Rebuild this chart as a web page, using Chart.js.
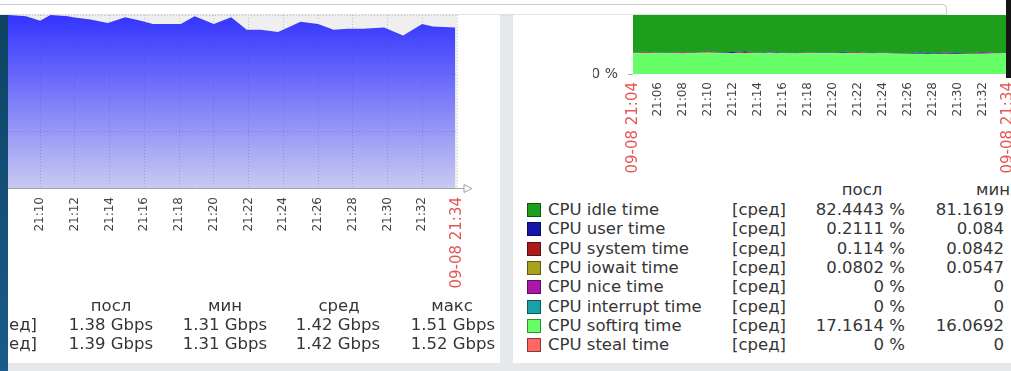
<!DOCTYPE html>
<html>
<head>
<meta charset="utf-8">
<script src="https://cdn.jsdelivr.net/npm/chart.js@4.4.1/dist/chart.umd.min.js"></script>
<style>
    html, body { margin: 0; padding: 0; }
    body {
        width: 1011px; height: 371px; position: relative; overflow: hidden;
        background: #e6e9ec; font-family: "DejaVu Sans", sans-serif; color: #333;
    }
    .abs { position: absolute; }
    .panel { position: absolute; background: #fff; overflow: hidden; }
    .txt { position: absolute; font: 16.5px/20px "DejaVu Sans", sans-serif; color: #353535; white-space: nowrap; z-index: 2; }
    .sq { position: absolute; width: 12px; height: 12px; border: 1px solid rgba(0,0,0,0.45); z-index: 2; }
</style>
</head>
<body>

<div class="abs" style="left:0;top:0;width:1011px;height:15px;background:#fff"></div>
<div class="abs" style="left:-6px;top:4px;width:952px;height:9px;border-top:1px solid #cdcdcd;border-right:1px solid #cdcdcd;border-radius:0 5px 0 0;box-shadow:0 1px 2px rgba(0,0,0,0.15);background:#fff"></div>

<div class="panel" style="left:0;top:15px;width:500px;height:348px">
    <canvas id="netChart" class="abs" style="left:-100px;top:0" width="584" height="283"></canvas>
</div>

<div class="panel" style="left:513px;top:15px;width:498px;height:348px">
    <canvas id="cpuChart" class="abs" style="left:0;top:-80px" width="540" height="245"></canvas>
</div>

<div class="abs" style="left:0;top:15px;width:8px;height:356px;background:linear-gradient(to bottom,#0c4362,#1a5b8b);z-index:5"></div>
<div class="abs" style="left:1006px;top:0;width:5px;height:78px;background:#151515;z-index:5"></div>

<script>
// ---- data ----
const timeTicks = ['09-08 21:04', '21:06', '21:08', '21:10', '21:12', '21:14', '21:16', '21:18',
    '21:20', '21:22', '21:24', '21:26', '21:28', '21:30', '21:32', '09-08 21:34'];

// network traffic (Gbps), x = minutes after 21:04
const netMinutes = [0, 1, 2, 3, 4.2, 5.2, 6.0, 6.6, 7.6, 7.9, 8.9, 9.9, 10.9, 11.8, 12.5, 13.5, 14.1,
    14.9, 16.0, 17.0, 17.9, 18.7, 19.7, 21.0, 22.0, 22.9, 23.7, 24.6, 25.8, 26.9, 28.0, 28.6, 29.9];
const netTraffic = [1.47, 1.50, 1.46, 1.49, 1.52, 1.51, 1.47, 1.52, 1.51, 1.50, 1.48, 1.45, 1.50, 1.47,
    1.44, 1.44, 1.44, 1.51, 1.44, 1.50, 1.39, 1.39, 1.37, 1.46, 1.44, 1.39, 1.40, 1.40, 1.41, 1.34,
    1.44, 1.42, 1.41];
const netGridY = [0, 0.5, 1.0, 1.52];

const netStatHeads = ['посл', 'мин', 'сред', 'макс'];
const netLast = ['1.38 Gbps', '1.39 Gbps'];
const netMin = ['1.31 Gbps', '1.31 Gbps'];
const netAvg = ['1.42 Gbps', '1.42 Gbps'];
const netMax = ['1.51 Gbps', '1.52 Gbps'];

// CPU utilisation (%), one value per minute from 21:04
const cpuMinutes = [0, 1, 2, 3, 4, 5, 6, 7, 8, 9, 10, 11, 12, 13, 14, 15, 16, 17, 18, 19, 20,
    21, 22, 23, 24, 25, 26, 27, 28, 29, 30];
const cpuIdle = [82.3, 81.6, 82.2, 82.4, 81.7, 82.3, 81.2, 82.4, 81.7, 81.8, 82.3, 81.2, 82.3, 82.6,
    82.2, 82.3, 82.4, 81.5, 81.7, 82.7, 82.2, 82.9, 83.0, 81.9, 82.9, 81.9, 82.6, 83.1, 81.7, 82.6, 82.44];
const cpuUser = [0.2, 0.3, 0.2, 0.2, 0.3, 0.2, 0.7, 0.2, 0.9, 0.6, 0.2, 1.0, 0.3, 0.2, 0.2, 0.3,
    0.2, 0.9, 0.3, 0.2, 0.3, 0.2, 0.2, 1.1, 0.3, 0.9, 0.7, 0.2, 0.6, 0.2, 0.21];
const cpuSystem = [0.1, 0.9, 0.1, 0.1, 0.8, 0.1, 0.6, 0.1, 0.2, 0.7, 0.1, 0.1, 0.1, 0.1, 0.1, 0.1,
    0.1, 0.1, 0.8, 0.1, 0.1, 0.1, 0.1, 0.1, 0.1, 0.6, 0.1, 0.1, 0.8, 0.1, 0.11];
const cpuIowait = [0.08, 0.1, 0.08, 0.08, 0.1, 0.08, 0.5, 0.08, 0.08, 0.08, 0.08, 0.08, 0.08, 0.08,
    0.4, 0.08, 0.08, 0.08, 0.08, 0.08, 0.4, 0.08, 0.08, 0.08, 0.08, 0.08, 0.08, 0.08, 0.08, 0.08, 0.08];
const cpuNice = [0, 0, 0, 0, 0, 0, 0, 0, 0, 0, 0, 0, 0, 0, 0, 0, 0, 0, 0, 0, 0, 0, 0, 0, 0, 0, 0, 0, 0, 0, 0];
const cpuInterrupt = [0, 0, 0, 0, 0, 0, 0, 0, 0, 0, 0, 0, 0, 0, 0, 0, 0, 0, 0, 0, 0, 0, 0, 0, 0, 0, 0, 0, 0, 0, 0];
const cpuSoftirq = [17.3, 17.1, 17.4, 17.2, 17.0, 17.3, 17.5, 17.2, 17.1, 17.4, 17.3, 17.6, 17.2, 17.0,
    17.1, 17.3, 17.2, 17.4, 17.1, 16.9, 17.0, 16.8, 16.6, 16.7, 16.5, 16.3, 16.4, 16.6, 16.8, 17.0, 17.16];
const cpuSteal = [0, 0, 0, 0, 0, 0, 0, 0, 0, 0, 0, 0, 0, 0, 0, 0, 0, 0, 0, 0, 0, 0, 0, 0, 0, 0, 0, 0, 0, 0, 0];
const cpuYTicks = [0, 100];

const cpuNames = ['CPU idle time', 'CPU user time', 'CPU system time', 'CPU iowait time',
    'CPU nice time', 'CPU interrupt time', 'CPU softirq time', 'CPU steal time'];
const cpuColors = ['#1d9f1d', '#1616a8', '#aa1c1c', '#aaa21a', '#aa18aa', '#18a2a6', '#66ff66', '#ff6666'];
const cpuLast = ['82.4443 %', '0.2111 %', '0.114 %', '0.0802 %', '0 %', '0 %', '17.1614 %', '0 %'];
const cpuMin = ['81.1619', '0.084', '0.0842', '0.0547', '0', '0', '16.0692', '0'];
const cpuStatHeads = ['посл', 'мин'];

const RED = '#e25656';
const GREY = '#444';

// ---- plugins ----
const plotBg = {
    id: 'plotBg',
    beforeDraw(chart, args, opts) {
        const { ctx, chartArea: a } = chart;
        ctx.save();
        ctx.fillStyle = opts.color;
        ctx.fillRect(a.left, a.top, a.width, a.height);
        ctx.restore();
    }
};

const axisArrow = {
    id: 'axisArrow',
    afterDraw(chart) {
        const { ctx, chartArea: a } = chart;
        const y = a.bottom + 0.5;
        ctx.save();
        ctx.strokeStyle = '#a0a0a0';
        ctx.lineWidth = 1;
        ctx.beginPath();
        ctx.moveTo(a.right, y);
        ctx.lineTo(a.right + 7, y);
        ctx.moveTo(a.right + 7, y - 4);
        ctx.lineTo(a.right + 15, y);
        ctx.lineTo(a.right + 7, y + 4);
        ctx.closePath();
        ctx.stroke();
        ctx.restore();
    }
};

function tickLabel(v) { return timeTicks[Math.round(v / 2)]; }
function isDateTick(c) { return !!(c && c.tick) && tickLabel(c.tick.value).indexOf('09-08') === 0; }
function tickColor(c) { return isDateTick(c) ? RED : GREY; }
function tickFont(c) { return { family: 'DejaVu Sans', size: isDateTick(c) ? 15 : 12 }; }

// ---- network graph ----
new Chart(document.getElementById('netChart'), {
    type: 'line',
    data: {
        datasets: [{
            data: netMinutes.map((m, i) => ({ x: m, y: netTraffic[i] })),
            fill: 'origin',
            borderWidth: 0,
            pointRadius: 0,
            tension: 0,
            backgroundColor: (c) => {
                const a = c.chart.chartArea;
                if (!a) return '#3333ff';
                const g = c.chart.ctx.createLinearGradient(0, a.top, 0, a.bottom);
                g.addColorStop(0, 'rgba(51,51,255,1)');
                g.addColorStop(1, 'rgba(51,51,255,0.2)');
                return g;
            }
        }]
    },
    options: {
        responsive: false,
        animation: false,
        events: [],
        layout: { padding: { left: 35.8, right: 20, top: 0, bottom: 0 } },
        plugins: { legend: { display: false }, tooltip: { enabled: false }, plotBg: { color: '#efefef' } },
        scales: {
            x: {
                type: 'linear', min: 0, max: 30, z: 1,
                afterFit: (s) => { s.height = 110; },
                grid: { color: '#c4c4c4', drawTicks: false },
                border: { display: true, color: '#a0a0a0', dash: [1, 2] },
                ticks: {
                    stepSize: 2, maxTicksLimit: 40, autoSkip: false, maxRotation: 90, minRotation: 90,
                    padding: 9, font: tickFont, color: tickColor, callback: tickLabel
                }
            },
            y: {
                min: 0, max: 1.52, z: 1,
                afterFit: (s) => { s.width = 0; },
                afterBuildTicks: (s) => { s.ticks = netGridY.map(v => ({ value: v })); },
                grid: { color: '#c4c4c4', drawTicks: false },
                border: { display: false, dash: [1, 2] },
                ticks: { display: false }
            }
        }
    },
    plugins: [plotBg, axisArrow]
});

// ---- CPU graph (stacked, bottom to top) ----
const cpuStack = [
    [cpuSoftirq, 6], [cpuSteal, 7], [cpuInterrupt, 5], [cpuNice, 4],
    [cpuIowait, 3], [cpuSystem, 2], [cpuUser, 1], [cpuIdle, 0]
];

new Chart(document.getElementById('cpuChart'), {
    type: 'line',
    data: {
        datasets: cpuStack.map(([vals, ci], i) => ({
            data: cpuMinutes.map((m, j) => ({ x: m, y: vals[j] })),
            fill: i === 0 ? 'origin' : '-1',
            backgroundColor: cpuColors[ci],
            borderColor: cpuColors[ci],
            borderWidth: 0,
            pointRadius: 0,
            tension: 0
        }))
    },
    options: {
        responsive: false,
        animation: false,
        events: [],
        layout: { padding: { left: 80, right: 45, top: 1.6, bottom: 0 } },
        plugins: { legend: { display: false }, tooltip: { enabled: false } },
        scales: {
            x: {
                type: 'linear', min: 0, max: 30,
                afterFit: (s) => { s.height = 106; },
                grid: { display: false, drawTicks: false },
                border: { display: false },
                ticks: {
                    stepSize: 2, maxTicksLimit: 40, autoSkip: false, maxRotation: 90, minRotation: 90,
                    padding: 8, font: tickFont, color: tickColor, callback: tickLabel
                }
            },
            y: {
                stacked: true, min: 0, max: 100,
                afterFit: (s) => { s.width = 40; },
                afterBuildTicks: (s) => { s.ticks = cpuYTicks.map(v => ({ value: v })); },
                grid: { drawOnChartArea: false, drawTicks: true, tickLength: 5, color: '#b0b0b0' },
                border: { display: false },
                ticks: {
                    padding: 10, color: GREY, font: { family: 'DejaVu Sans', size: 14 },
                    callback: (v) => v + ' %'
                }
            }
        }
    }
});

// ---- legends (text under the graphs) ----
function addText(txt, x, y, align) {
    const el = document.createElement('div');
    el.className = 'txt';
    el.textContent = txt;
    el.style.top = (y - 10) + 'px';
    if (align === 'right') {
        el.style.right = (1011 - x) + 'px';
    } else if (align === 'center') {
        el.style.left = x + 'px';
        el.style.transform = 'translateX(-50%)';
    } else {
        el.style.left = x + 'px';
    }
    document.body.appendChild(el);
}

const netHeadX = [111, 225, 339, 452];
netStatHeads.forEach((h, i) => addText(h, netHeadX[i], 306, 'center'));
[netLast, netMin, netAvg, netMax].forEach((col, c) => {
    col.forEach((v, r) => addText(v, [153, 267, 380, 495][c], 325 + r * 19, 'right'));
});
[0, 1].forEach(r => addText('[сред]', 37, 325 + r * 19, 'right'));

addText(cpuStatHeads[0], 862, 190, 'center');
addText(cpuStatHeads[1], 993, 190, 'center');
cpuNames.forEach((name, i) => {
    const y = 210 + i * 19.3;
    const sq = document.createElement('div');
    sq.className = 'sq';
    sq.style.left = '527px';
    sq.style.top = Math.round(y - 7) + 'px';
    sq.style.background = cpuColors[i];
    document.body.appendChild(sq);
    addText(name, 548, y, 'left');
    addText('[сред]', 732, y, 'left');
    addText(cpuLast[i], 905, y, 'right');
    addText(cpuMin[i], 1004, y, 'right');
});
</script>
</body>
</html>
